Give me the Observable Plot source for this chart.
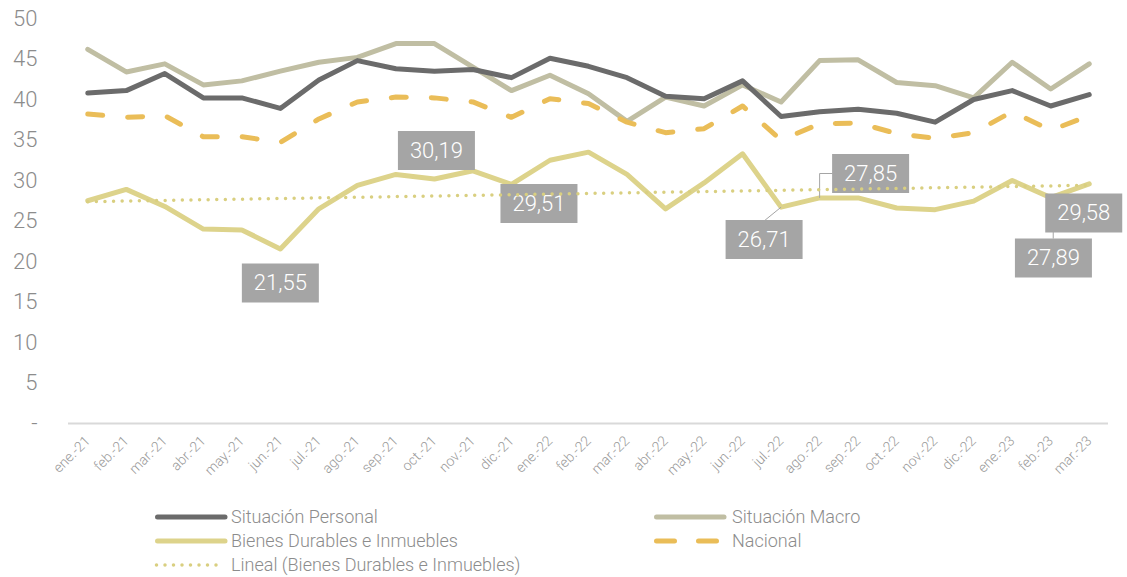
<!DOCTYPE html>
<html><head><meta charset="utf-8">
<script src="https://cdn.jsdelivr.net/npm/d3@7"></script>
<script src="https://cdn.jsdelivr.net/npm/@observablehq/plot@0.6"></script>
<style>
body{margin:0;background:#fff;font-family:Roboto,sans-serif;font-weight:300}
#wrap{position:relative;width:1127px;height:577px;overflow:hidden}
#legend{position:absolute;left:0;top:500px;width:1127px;height:77px}
.leg{position:absolute;height:24px;line-height:24px;color:#8c8c8c;font-size:18px;white-space:nowrap}
.sw{position:absolute;width:80px;height:12px}
</style></head><body><div id="wrap"><div id="chart"></div><div id="legend"></div></div>
<script>
// ---- data ----
const months = ["ene.-21","feb.-21","mar.-21","abr.-21","may.-21","jun.-21","jul.-21","ago.-21","sep.-21","oct.-21","nov.-21","dic.-21",
  "ene.-22","feb.-22","mar.-22","abr.-22","may.-22","jun.-22","jul.-22","ago.-22","sep.-22","oct.-22","nov.-22","dic.-22",
  "ene.-23","feb.-23","mar.-23"];
const situacionPersonal = [40.8,41.1,43.2,40.2,40.2,38.9,42.4,44.8,43.8,43.5,43.7,42.7,45.1,44.1,42.7,40.4,40.1,42.3,37.9,38.5,38.8,38.3,37.2,40.0,41.1,39.2,40.6];
const situacionMacro = [46.2,43.4,44.4,41.8,42.3,43.5,44.6,45.2,46.9,46.9,44.0,41.1,43.0,40.7,37.3,40.3,39.2,41.8,39.7,44.8,44.9,42.1,41.7,40.2,44.6,41.3,44.4];
const bienesDurables = [27.5,28.9,26.8,24.0,23.9,21.55,26.5,29.4,30.75,30.19,31.2,29.51,32.5,33.5,30.75,26.5,29.7,33.3,26.71,27.85,27.85,26.6,26.4,27.45,30.0,27.89,29.58];
const nacional = [38.2,37.8,38.0,35.4,35.4,34.7,37.6,39.7,40.3,40.2,39.7,37.8,40.1,39.5,37.2,35.9,36.4,39.2,35.0,37.0,37.1,35.8,35.2,35.9,38.5,36.2,38.0];
const labeledMonths = ["jun.-21","oct.-21","dic.-21","jul.-22","ago.-22","feb.-23","mar.-23"];
const yTicks = [0,5,10,15,20,25,30,35,40,45,50];

// ---- layout / style ----
const C = {personal:"#6b6b6b", macro:"#c0bea3", bienes:"#ddd38b", nacional:"#eabd58", trend:"#d9cf80", box:"#a5a5a5", text:"#8c8c8c"};
const labelLayout = {
  "jun.-21":{dx:0,dy:34},
  "oct.-21":{dx:2,dy:-28.5},
  "dic.-21":{dx:27.5,dy:19},
  "jul.-22":{dx:-17,dy:32.4,leader:[[0,0],[-16,13]]},
  "ago.-22":{dx:51,dy:-24.4,leader:[[0,0],[0,-24.4],[13,-24.4]]},
  "feb.-23":{dx:2.7,dy:60.4,leader:[[2.5,0],[2.5,41]]},
  "mar.-23":{dx:-5.5,dy:29}
};

const data = months.map((m,i)=>({i, m, personal:situacionPersonal[i], macro:situacionMacro[i], bienes:bienesDurables[i], nacional:nacional[i]}));
const fmt = v => v.toFixed(2).replace(".", ",");

const boxSymbol = (w,h) => ({draw(ctx){ ctx.moveTo(-w/2,-h/2); ctx.lineTo(w/2,-h/2); ctx.lineTo(w/2,h/2); ctx.lineTo(-w/2,h/2); ctx.closePath(); }});
const pathSymbol = pts => ({draw(ctx){ ctx.moveTo(pts[0][0],pts[0][1]); for (const p of pts.slice(1)) ctx.lineTo(p[0],p[1]); }});

const leaderMarks = [], boxMarks = [], textMarks = [];
for (const m of labeledMonths) {
  const d = data.filter(r => r.m === m);
  const L = labelLayout[m];
  if (L.leader) leaderMarks.push(Plot.dot(d, {x:"i", y:"bienes", symbol:pathSymbol(L.leader), r:5, fill:"none", stroke:C.box, strokeWidth:1}));
  boxMarks.push(Plot.dot(d, {x:"i", y:"bienes", symbol:boxSymbol(77,39), r:5, fill:C.box, stroke:"none", dx:L.dx, dy:L.dy}));
  textMarks.push(Plot.text(d, {x:"i", y:"bienes", text:r=>fmt(r.bienes), dx:L.dx, dy:L.dy, fill:"#fff", fontSize:22, fontWeight:300, textAnchor:"middle", lineAnchor:"middle"}));
}

const plot = Plot.plot({
  width:1127, height:500,
  marginLeft:68, marginRight:19, marginTop:18, marginBottom:77,
  style:{fontFamily:"Roboto, sans-serif", fontWeight:300, background:"#fff", overflow:"visible"},
  x:{type:"linear", domain:[-0.5, months.length-0.5]},
  y:{domain:[0,50]},
  marks:[
    Plot.axisY({ticks:yTicks, tickFormat:d=>d===0?"-":String(d), tickSize:0, tickPadding:31, fontSize:22, fill:C.text, label:null}),
    Plot.axisX({ticks:d3.range(months.length), tickFormat:i=>months[i], tickRotate:-45, tickSize:0, tickPadding:15, fontSize:14, fill:"#999", label:null}),
    Plot.ruleY([0], {stroke:"#d9d9d9", strokeWidth:2}),
    Plot.lineY(data, {x:"i", y:"macro", stroke:C.macro, strokeWidth:5, strokeLinejoin:"round", strokeLinecap:"round"}),
    Plot.lineY(data, {x:"i", y:"personal", stroke:C.personal, strokeWidth:5, strokeLinejoin:"round", strokeLinecap:"round"}),
    Plot.lineY(data, {x:"i", y:"nacional", stroke:C.nacional, strokeWidth:5, strokeDasharray:"15,25", strokeLinejoin:"round", strokeLinecap:"round"}),
    Plot.lineY(data, {x:"i", y:"bienes", stroke:C.bienes, strokeWidth:5, strokeLinejoin:"round", strokeLinecap:"round"}),
    ...leaderMarks,
    ...boxMarks,
    ...textMarks,
    Plot.linearRegressionY(data, {x:"i", y:"bienes", stroke:C.trend, strokeWidth:3.5, strokeDasharray:"0,8.6", strokeLinecap:"round", ci:0})
  ]
});
document.getElementById("chart").appendChild(plot);

// ---- legend ----
const legendItems = [
  {label:"Situación Personal", col:0, row:0, color:C.personal, dash:null, w:5},
  {label:"Situación Macro", col:1, row:0, color:C.macro, dash:null, w:5},
  {label:"Bienes Durables e Inmuebles", col:0, row:1, color:C.bienes, dash:null, w:5},
  {label:"Nacional", col:1, row:1, color:C.nacional, dash:"18,24", w:5},
  {label:"Lineal (Bienes Durables e Inmuebles)", col:0, row:2, color:C.trend, dash:"0,8.5", w:3.5}
];
const colX = [152, 651], textX = [231, 732], rowY = [17, 41, 65];
const leg = document.getElementById("legend");
for (const it of legendItems) {
  const sw = document.createElementNS("http://www.w3.org/2000/svg","svg");
  sw.setAttribute("class","sw"); sw.setAttribute("width","80"); sw.setAttribute("height","12");
  sw.style.left = colX[it.col] + "px"; sw.style.top = (rowY[it.row]-6) + "px";
  const ln = document.createElementNS("http://www.w3.org/2000/svg","line");
  const x2 = it.dash === "18,24" ? 65.5 : (it.dash ? 70 : 73);
  ln.setAttribute("x1", it.dash === "0,8.5" ? 4.5 : 5.5); ln.setAttribute("x2", x2);
  ln.setAttribute("y1","6"); ln.setAttribute("y2","6");
  ln.setAttribute("stroke", it.color); ln.setAttribute("stroke-width", it.w);
  ln.setAttribute("stroke-linecap","round");
  if (it.dash) ln.setAttribute("stroke-dasharray", it.dash);
  sw.appendChild(ln); leg.appendChild(sw);
  const t = document.createElement("div");
  t.className = "leg"; t.textContent = it.label;
  t.style.left = textX[it.col] + "px"; t.style.top = (rowY[it.row]-12) + "px";
  leg.appendChild(t);
}
</script></body></html>
